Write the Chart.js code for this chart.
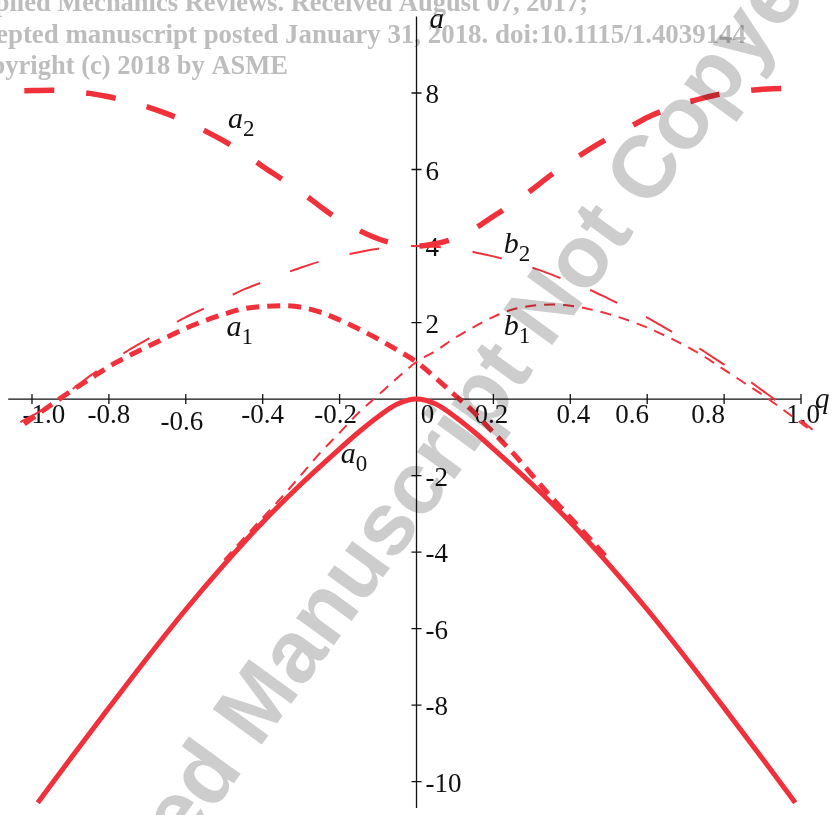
<!DOCTYPE html>
<html>
<head>
<meta charset="utf-8">
<script src="https://cdn.jsdelivr.net/npm/chart.js@4.4.1/dist/chart.umd.min.js"></script>
<style>
    html, body { margin: 0; padding: 0; background: #fff; }
    #wrap { width: 837px; height: 815px; }
</style>
</head>
<body>
<div id="wrap"><canvas id="mathieuChart"></canvas></div>
<script>
// values (q on x, a on y)
const qA0 = [-0.985, -0.9, -0.8, -0.7, -0.6, -0.5, -0.4, -0.3, -0.2, -0.15, -0.1, -0.05, 0,
    0.05, 0.1, 0.15, 0.2, 0.3, 0.4, 0.5, 0.6, 0.7, 0.8, 0.9, 0.985];
const a0 = [-10.55, -9.4, -8.07, -6.76, -5.5, -4.32, -3.22, -2.22, -1.3, -0.86, -0.46, -0.13, 0,
    -0.13, -0.46, -0.86, -1.3, -2.22, -3.22, -4.32, -5.5, -6.76, -8.07, -9.4, -10.55];

const qA1 = [-1.02, -0.95, -0.9, -0.85, -0.8, -0.75, -0.7, -0.65, -0.6, -0.55, -0.5, -0.45, -0.4, -0.35,
    -0.3, -0.25, -0.2, -0.15, -0.1, -0.05, 0, 0.05, 0.1, 0.15, 0.2, 0.25, 0.3, 0.35, 0.4, 0.45, 0.5];
const a1 = [-0.65, -0.15, 0.2, 0.52, 0.85, 1.12, 1.37, 1.61, 1.85, 2.05, 2.22, 2.36, 2.42, 2.44,
    2.40, 2.27, 2.07, 1.83, 1.57, 1.28, 0.97, 0.55, 0.1, -0.35, -0.88, -1.4, -1.98, -2.56, -3.1, -3.64, -4.2];

const qB1 = [-0.5, -0.45, -0.4, -0.35, -0.3, -0.25, -0.2, -0.15, -0.1, -0.05, 0, 0.05, 0.1, 0.15, 0.2,
    0.25, 0.3, 0.35, 0.4, 0.45, 0.5, 0.55, 0.6, 0.65, 0.7, 0.75, 0.8, 0.85, 0.9, 0.95, 1.03];
const b1 = [-4.2, -3.64, -3.1, -2.56, -1.98, -1.4, -0.88, -0.35, 0.1, 0.55, 0.97, 1.26, 1.60, 1.89, 2.15,
    2.34, 2.44, 2.47, 2.44, 2.35, 2.22, 2.06, 1.87, 1.64, 1.39, 1.10, 0.77, 0.44, 0.11, -0.25, -0.85];

const qA2 = [-1.02, -0.95, -0.9, -0.85, -0.8, -0.75, -0.7, -0.65, -0.6, -0.55, -0.5, -0.45, -0.4, -0.35,
    -0.3, -0.25, -0.2, -0.15, -0.1, -0.05, 0, 0.05, 0.1, 0.15, 0.2, 0.25, 0.3, 0.35, 0.4, 0.45, 0.5,
    0.55, 0.6, 0.65, 0.7, 0.75, 0.8, 0.85, 0.9, 0.95, 1.025];
const a2 = [8.06, 8.07, 8.04, 7.99, 7.9, 7.78, 7.64, 7.46, 7.25, 7.01, 6.74, 6.43, 6.08, 5.75,
    5.41, 5.03, 4.68, 4.41, 4.19, 4.05, 4.0, 4.06, 4.2, 4.45, 4.78, 5.1, 5.47, 5.86, 6.2, 6.53, 6.82,
    7.08, 7.36, 7.57, 7.74, 7.88, 7.99, 8.05, 8.1, 8.12, 8.06];

const qB2 = [-1.03, -0.95, -0.9, -0.85, -0.8, -0.75, -0.7, -0.65, -0.6, -0.55, -0.5, -0.45, -0.4, -0.35,
    -0.3, -0.25, -0.2, -0.15, -0.1, -0.05, 0, 0.05, 0.1, 0.15, 0.2, 0.25, 0.3, 0.35, 0.4, 0.45, 0.5,
    0.55, 0.6, 0.65, 0.7, 0.75, 0.8, 0.85, 0.9, 0.95, 1.03];
const b2 = [-0.6, -0.15, 0.22, 0.6, 0.95, 1.27, 1.56, 1.86, 2.14, 2.38, 2.62, 2.86, 3.06, 3.26,
    3.44, 3.6, 3.73, 3.84, 3.93, 3.98, 4.0, 3.98, 3.93, 3.84, 3.73, 3.6, 3.44, 3.26, 3.06, 2.86, 2.62,
    2.38, 2.13, 1.84, 1.55, 1.23, 0.9, 0.58, 0.22, -0.15, -0.8];

const xTickValues = [-1.0, -0.8, -0.6, -0.4, -0.2, 0, 0.2, 0.4, 0.6, 0.8, 1.0];
const xTickLabels = ['-1.0', '-0.8', '-0.6', '-0.4', '-0.2', '0', '0.2', '0.4', '0.6', '0.8', '1.0'];
const yTickValues = [8, 6, 4, 2, -2, -4, -6, -8, -10];
const yTickLabels = ['8', '6', '4', '2', '-2', '-4', '-6', '-8', '-10'];

const RED = '#f0313b';
const SERIF = '"Liberation Serif", "Times New Roman", serif';

function pts(qs, vals) {
    return qs.map((q, i) => ({ x: q, y: vals[i] }));
}

// maple nudges some tick labels sideways, copy that
const xLabelNudge = { '-1.0': [12, 0], '-0.6': [-4, 7], '-0.2': [-4, 0], '0': [11, 0], '0.2': [-2, 0],
    '0.4': [3, 0], '0.6': [-15, 0], '0.8': [-16, 0], '1.0': [2, 0] };

const curveLabels = [
    { main: 'a', sub: '2', q: -0.49, a: 7.08 },
    { main: 'a', sub: '1', q: -0.494, a: 1.66 },
    { main: 'b', sub: '2', q: 0.227, a: 3.83 },
    { main: 'b', sub: '1', q: 0.227, a: 1.675 },
    { main: 'a', sub: '0', q: -0.197, a: -1.68 }
];

const headerLines = [
    { text: 'Applied Mechanics Reviews. Received August 07, 2017;', right: 588, base: 11, size: 26.5 },
    { text: 'Accepted manuscript posted January 31, 2018. doi:10.1115/1.4039144', right: 746, base: 42.5, size: 26.9 },
    { text: 'Copyright (c) 2018 by ASME', right: 288, base: 74, size: 26.5 }
];

const crossAxes = {
    id: 'crossAxes',
    beforeDraw(chart) {
        const ctx = chart.ctx;
        ctx.save();
        ctx.fillStyle = '#fff';
        ctx.fillRect(0, 0, chart.width, chart.height);
        ctx.restore();
    },
    beforeDatasetsDraw(chart) {
        const ctx = chart.ctx;
        const xs = chart.scales.x, ys = chart.scales.y;
        const x0 = xs.getPixelForValue(0), y0 = ys.getPixelForValue(0);
        ctx.save();
        ctx.strokeStyle = '#111';
        ctx.fillStyle = '#111';
        ctx.lineWidth = 1.3;
        ctx.beginPath();
        ctx.moveTo(xs.getPixelForValue(-1.062), y0);
        ctx.lineTo(xs.getPixelForValue(1.0), y0);
        ctx.moveTo(x0, ys.getPixelForValue(10));
        ctx.lineTo(x0, ys.getPixelForValue(-10.69));
        xTickValues.forEach(v => {
            if (v === 0) return;
            const px = xs.getPixelForValue(v);
            ctx.moveTo(px, y0 - 5);
            ctx.lineTo(px, y0 + 5);
        });
        yTickValues.forEach(v => {
            const py = ys.getPixelForValue(v);
            ctx.moveTo(x0 - 5, py);
            ctx.lineTo(x0 + 5, py);
        });
        ctx.stroke();

        ctx.font = '27px ' + SERIF;
        ctx.textAlign = 'center';
        ctx.textBaseline = 'alphabetic';
        xTickValues.forEach((v, i) => {
            const lab = xTickLabels[i];
            const n = xLabelNudge[lab] || [0, 0];
            ctx.fillText(lab, xs.getPixelForValue(v) + n[0], y0 + 24 + n[1]);
        });
        ctx.textAlign = 'left';
        yTickValues.forEach((v, i) => {
            ctx.fillText(yTickLabels[i], x0 + 9, ys.getPixelForValue(v) + 10);
        });

        // axis names
        ctx.font = 'italic 29px ' + SERIF;
        ctx.fillText('q', 815, y0 + 9);
        ctx.fillText('a', x0 + 13, 28);
        ctx.restore();
    },
    afterDatasetsDraw(chart) {
        const ctx = chart.ctx;
        const xs = chart.scales.x, ys = chart.scales.y;
        ctx.save();
        ctx.fillStyle = '#111';
        ctx.textAlign = 'left';
        ctx.textBaseline = 'alphabetic';
        curveLabels.forEach(l => {
            const px = xs.getPixelForValue(l.q), py = ys.getPixelForValue(l.a);
            ctx.font = 'italic 30px ' + SERIF;
            ctx.fillText(l.main, px, py);
            const w = ctx.measureText(l.main).width;
            ctx.font = '23px ' + SERIF;
            ctx.fillText(l.sub, px + w, py + 8);
        });
        ctx.restore();
    },
    afterDraw(chart) {
        // journal watermark, blended over the plot
        const ctx = chart.ctx;
        ctx.save();
        ctx.globalCompositeOperation = 'multiply';
        ctx.fillStyle = '#bdbdbd';
        ctx.textAlign = 'right';
        ctx.textBaseline = 'alphabetic';
        headerLines.forEach(h => {
            ctx.font = 'bold ' + h.size + 'px ' + SERIF;
            ctx.fillText(h.text, h.right, h.base);
        });

        ctx.fillStyle = '#cdcdcd';
        ctx.font = 'bold 88px "Liberation Sans", Arial, sans-serif';
        ctx.translate(445.5, 438);
        ctx.rotate(-54 * Math.PI / 180);
        ctx.textAlign = 'center';
        ctx.fillText('Accepted Manuscript Not Copyedited', 0, 31.5);
        ctx.restore();
    }
};

function curve(label, qs, vals, width, dash) {
    return {
        label: label,
        data: pts(qs, vals),
        borderColor: RED,
        borderWidth: width,
        borderDash: dash,
        showLine: true,
        pointRadius: 0,
        cubicInterpolationMode: 'monotone',
        fill: false
    };
}

const ctx = document.getElementById('mathieuChart').getContext('2d');
new Chart(ctx, {
    type: 'scatter',
    data: {
        datasets: [
            curve('a0', qA0, a0, 5, []),
            curve('a1', qA1, a1, 5, [13, 8]),
            curve('b1', qB1, b1, 2, [11, 8]),
            curve('a2', qA2, a2, 5.5, [30, 32]),
            curve('b2', qB2, b2, 2, [30, 32])
        ]
    },
    options: {
        responsive: true,
        maintainAspectRatio: false,
        animation: false,
        layout: { padding: 0 },
        plugins: { legend: { display: false }, tooltip: { enabled: false } },
        scales: {
            x: { type: 'linear', min: -1.0832, max: 1.0936, display: false },
            y: { type: 'linear', min: -10.87, max: 10.43, display: false }
        }
    },
    plugins: [crossAxes]
});
</script>
</body>
</html>
